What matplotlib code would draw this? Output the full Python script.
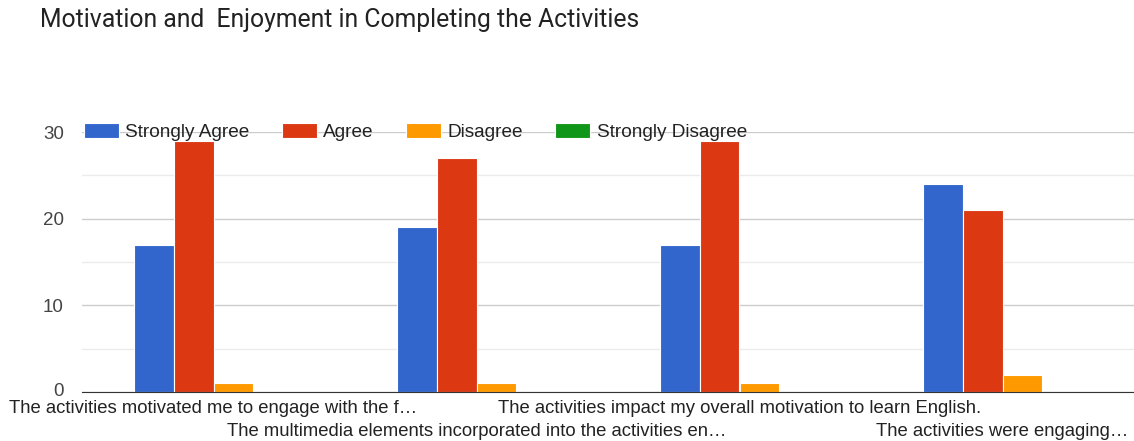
import matplotlib
matplotlib.use("Agg")
import matplotlib.pyplot as plt
import matplotlib.transforms as mtransforms
import numpy as np

categories = [
    "The activities motivated me to engage with the f\u2026",
    "The multimedia elements incorporated into the activities en\u2026",
    "The activities impact my overall motivation to learn English.",
    "The activities were engaging\u2026",
]
series_names = ["Strongly Agree", "Agree", "Disagree", "Strongly Disagree"]
strongly_agree = [17, 19, 17, 24]
agree = [29, 27, 29, 21]
disagree = [1, 1, 1, 2]
strongly_disagree = [0, 0, 0, 0]
colors = ["#3366CC", "#DC3912", "#FF9900", "#109618"]

plt.rcParams['font.family'] = ['Liberation Sans', 'DejaVu Sans']

fig = plt.figure(figsize=(11.34, 4.41), dpi=100)
ax = fig.add_axes([82/1134, 49/441, 1 - 82/1134, 260/441])

x = np.arange(len(categories))
bw = 0.152
series = [strongly_agree, agree, disagree, strongly_disagree]
for i, (vals, name, c) in enumerate(zip(series, series_names, colors)):
    ax.bar(x + (i - 1.5) * bw, vals, bw, color=c, label=name,
           edgecolor="white", linewidth=0.8, zorder=3)

ax.set_xlim(-0.5, len(categories) - 0.5)
ax.set_ylim(0, 30)
ax.set_yticks([0, 10, 20, 30])
ax.set_yticks([5, 15, 25], minor=True)
ax.grid(axis="y", which="major", color="#cccccc", linewidth=1, zorder=0)
ax.grid(axis="y", which="minor", color="#ebebeb", linewidth=1, zorder=0)
for s in ["top", "right", "left"]:
    ax.spines[s].set_visible(False)
ax.spines["bottom"].set_color("#333333")
ax.spines["bottom"].set_zorder(4)
ax.tick_params(axis="y", which="both", length=0, labelsize=13.5, labelcolor="#444444", pad=13)
ax.tick_params(axis="x", length=0, labelsize=13.3, labelcolor="#222222", pad=5.5)
ax.set_xticks(x)
ax.set_xticklabels(categories)
for i, tick in enumerate(ax.xaxis.get_major_ticks()):
    if i % 2 == 1:
        tick.set_pad(5.5 + 16.5)

# nudge the "0" label up slightly so it does not touch the category labels
zero_lbl = ax.yaxis.get_major_ticks()[0].label1
zero_lbl.set_transform(zero_lbl.get_transform() +
                       mtransforms.ScaledTranslation(0, 3/100, fig.dpi_scale_trans))

leg = ax.legend(loc="center left", bbox_to_anchor=(0.002, 1.0), ncol=4, frameon=False,
                fontsize=13.7, handlelength=1.85, handleheight=0.85, handletextpad=0.32,
                columnspacing=1.7, borderaxespad=0, borderpad=0)
for t in leg.get_texts():
    t.set_color("#222222")

fig.text(40/1134, 1 - 20/441, "Motivation and  Enjoyment in Completing the Activities",
         fontsize=17.85, color="#222222", va="center", ha="left",
         family=["Roboto", "DejaVu Sans"])

fig.savefig("out.png", dpi=100, facecolor="white")
